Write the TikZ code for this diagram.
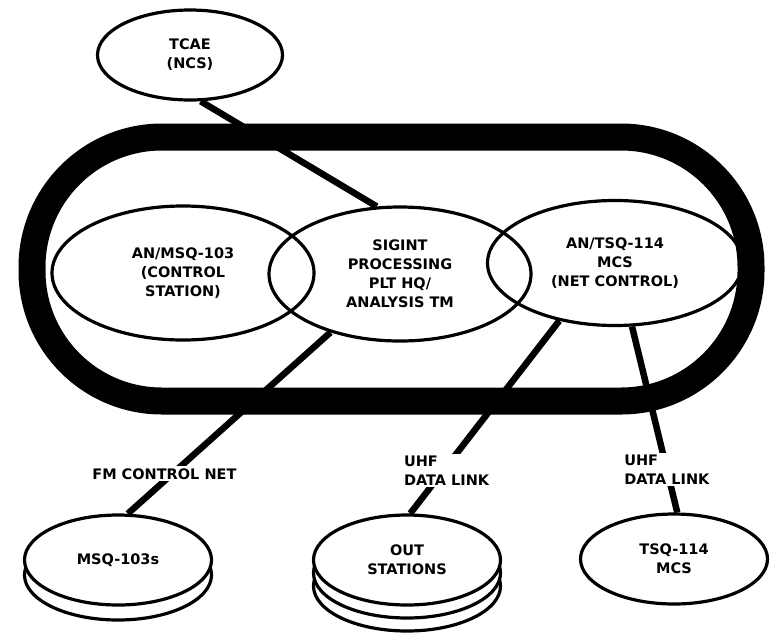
\documentclass[tikz,border=0pt]{standalone}
\usepackage{fontspec}
\setmainfont{DejaVu Sans}
\usetikzlibrary{positioning,shapes.geometric}

\begin{document}
\begin{tikzpicture}[
			x=1pt, y=-1pt,
			unit/.style={ellipse, draw, line width=3.2pt, inner sep=0pt, align=center, font=\fontsize{14.5}{19}\selectfont\bfseries},
			bigunit/.style={unit, minimum width=262pt, minimum height=134pt},
			disk/.style={unit, fill=white, minimum width=187pt, minimum height=90pt},
			layer/.style={draw, line width=3.2pt, fill=white},
			ring/.style={draw, line width=27pt, rounded corners=130pt},
			link/.style={draw, line width=6.5pt},
			lbl/.style={fill=white, inner sep=2pt, align=left, font=\fontsize{14.5}{19}\selectfont\bfseries}
		]
		\useasboundingbox (0,0) rectangle (775,635);

		% the net
		\draw[ring] (32,137) rectangle (751,401);

		\node[unit, minimum width=185pt, minimum height=90pt] (tcae) at (190,55) {TCAE\\(NCS)};

		\node[bigunit] (msq) at (183,273) {AN/MSQ-103\\(CONTROL\\STATION)};
		\node[bigunit] (sigint) at (400,274) {SIGINT\\PROCESSING\\PLT HQ/\\ANALYSIS TM};
		\node[unit, minimum width=255pt, minimum height=125pt] (mcs) at (615,263) {AN/TSQ-114\\MCS\\(NET CONTROL)};

		% stacked stations
		\draw[layer] (118,575) ellipse [x radius=93.5, y radius=45];
		\node[disk] (msqs) at (118,560) {MSQ-103s};

		\draw[layer] (407,586) ellipse [x radius=93.5, y radius=45];
		\draw[layer] (407,573) ellipse [x radius=93.5, y radius=45];
		\node[disk] (out) at (407,560) {OUT\\STATIONS};

		\node[disk] (tsq) at (674,559) {TSQ-114\\MCS};

		\draw[link] (tcae.-77) -- (sigint.109);
		\draw[link] (sigint.220) -- node[lbl, pos=.78, xshift=-8pt] {FM CONTROL NET} (msqs.78);
		\draw[link] (mcs.226) -- node[lbl, pos=.776, xshift=3pt] {UHF\\DATA LINK} (out.86);
		\draw[link] (mcs.285) -- node[lbl, pos=.77] {UHF\\DATA LINK} (tsq.86);
	\end{tikzpicture}
\end{document}
